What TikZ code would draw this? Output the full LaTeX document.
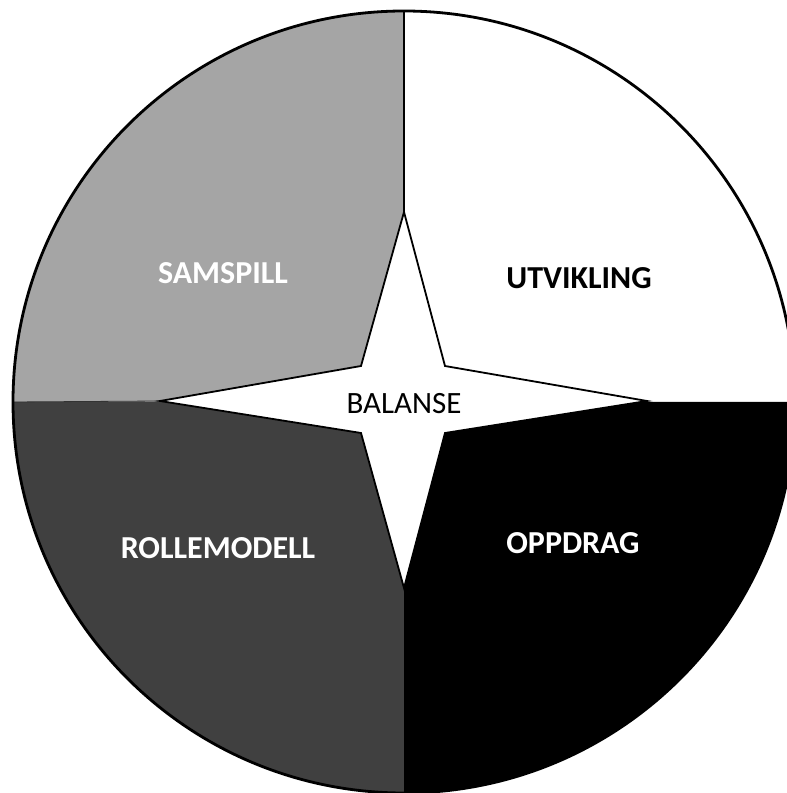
\documentclass[tikz,border=0pt]{standalone}
\usepackage{fontspec}
\setmainfont{Carlito}
\definecolor{qgray}{HTML}{A5A5A5}
\definecolor{qdark}{HTML}{404040}
\begin{document}
\begin{tikzpicture}[x=1pt,y=1pt,
  lbl/.style={font=\fontsize{32}{37}\selectfont\bfseries, inner sep=0pt}]
\useasboundingbox (0,0) rectangle (787,793);
\clip (0,0) rectangle (787,793);
\coordinate (C) at (404,391);
% quadrants
\fill[qgray] (C) -- ++(-391,0) arc[start angle=180,end angle=90,radius=391] -- cycle;
\fill[white] (C) -- ++(0,391) arc[start angle=90,end angle=0,radius=391] -- cycle;
\fill[qdark] (C) -- ++(-391,0) arc[start angle=180,end angle=270,radius=391] -- cycle;
\fill[black] (C) -- ++(391,0) arc[start angle=0,end angle=-90,radius=391] -- cycle;
% circle outline and dividers
\coordinate (Cleft) at (13,391);
\coordinate (Ctop) at (404,782);
\coordinate (Stop) at (404,581);
\coordinate (Sleft) at (160,392);
\draw[line width=0.8pt, black!80] (Cleft) -- (Sleft);
\draw[line width=2.8pt] (C) circle[radius=391];
\draw[line width=1.6pt] (Ctop) -- (Stop);
% star
\coordinate (Sur) at (445,427);
\coordinate (Sright) at (647,392);
\coordinate (Slr) at (445,360);
\coordinate (Sbot) at (404,205);
\coordinate (Sll) at (361,360);
\coordinate (Sul) at (361,427);
\draw[fill=white, line width=1.8pt, line join=miter] (Stop) -- (Sur) -- (Sright) -- (Slr) -- (Sbot) -- (Sll) -- (Sleft) -- (Sul) -- cycle;
% labels
\node[lbl, text=white] (samspill) at (223,520) {SAMSPILL};
\node[lbl, text=black] (utvikling) at (579,515) {UTVIKLING};
\node[lbl, text=white] (rollemodell) at (218,245) {ROLLEMODELL};
\node[lbl, text=white] (oppdrag) at (573,250) {OPPDRAG};
\node[font=\fontsize{31}{36}\selectfont, inner sep=0pt] (balanse) at (404,389) {BALANSE};
\end{tikzpicture}
\end{document}
